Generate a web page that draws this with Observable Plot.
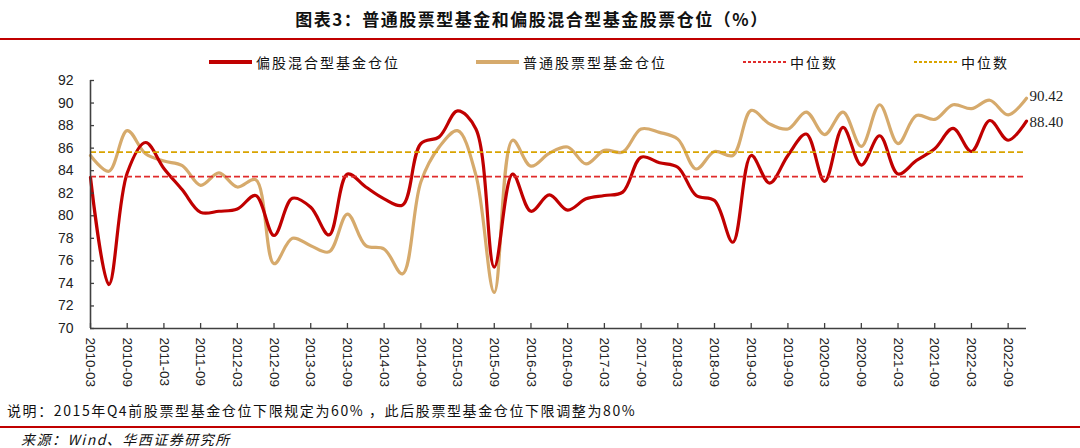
<!DOCTYPE html>
<html>
<head>
<meta charset="utf-8">
<script src="https://cdn.jsdelivr.net/npm/d3@7"></script>
<script src="https://cdn.jsdelivr.net/npm/@observablehq/plot@0.6"></script>
<style>
  html, body { margin: 0; padding: 0; background: #fff; }
  body { width: 1080px; height: 448px; overflow: hidden; position: relative; font-family: "Noto Sans CJK SC", sans-serif; color: #111; }
  #title { position: absolute; top: 7px; left: -8px; width: 1080px; text-align: center; font-size: 17px; font-weight: 700; letter-spacing: 1.5px; line-height: 24px; }
  .rule { position: absolute; left: 0; width: 1080px; background: #c00000; }
  .item { position: absolute; top: 52px; height: 20px; display: flex; align-items: center; font-size: 14px; letter-spacing: 2px; color: #111; white-space: nowrap; }
  .sw { width: 43px; margin-right: 4px; }
  #chart { position: absolute; left: 0; top: 70px; }
  #note { position: absolute; left: 7px; top: 400px; font-size: 14px; letter-spacing: 1.6px; line-height: 20px; color: #111; white-space: nowrap; }
  #source { position: absolute; left: 21px; top: 431px; font-size: 14px; letter-spacing: 1.5px; line-height: 16px; font-style: italic; color: #111; white-space: nowrap; }
</style>
</head>
<body>
<div id="title"></div>
<div class="rule" style="top:38px;height:2px;"></div>
<div id="legend"></div>
<div id="chart"></div>
<div id="note"></div>
<div class="rule" style="top:426px;height:1.5px;"></div>
<div id="source"></div>
<script>
// ---- data ----
const titleText = "图表3：普通股票型基金和偏股混合型基金股票仓位（%）";
const noteText = "说明：2015年Q4前股票型基金仓位下限规定为60% ，此后股票型基金仓位下限调整为80%";
const sourceText = "来源：Wind、华西证券研究所";
const seriesNames = ["偏股混合型基金仓位", "普通股票型基金仓位", "中位数", "中位数"];

const quarters = [
  "2010-03","2010-06","2010-09","2010-12","2011-03","2011-06","2011-09","2011-12",
  "2012-03","2012-06","2012-09","2012-12","2013-03","2013-06","2013-09","2013-12",
  "2014-03","2014-06","2014-09","2014-12","2015-03","2015-06","2015-09","2015-12",
  "2016-03","2016-06","2016-09","2016-12","2017-03","2017-06","2017-09","2017-12",
  "2018-03","2018-06","2018-09","2018-12","2019-03","2019-06","2019-09","2019-12",
  "2020-03","2020-06","2020-09","2020-12","2021-03","2021-06","2021-09","2021-12",
  "2022-03","2022-06","2022-09","2022-12"
];

const hybridFund = [
  83.4, 73.9, 83.8, 86.5, 84.2, 82.3, 80.3, 80.4,
  80.6, 81.8, 78.25, 81.55, 80.75, 78.3, 83.7, 82.55,
  81.5, 80.95, 86.4, 87.0, 89.3, 87.7, 75.45, 83.7,
  80.4, 81.85, 80.5, 81.5, 81.8, 82.1, 85.2, 84.7,
  84.3, 81.8, 81.35, 77.65, 85.35, 82.9, 85.35, 87.25,
  83.05, 87.85, 84.5, 87.1, 83.7, 84.9, 85.95, 87.75,
  85.7, 88.45, 86.7, 88.40
];

const stockFund = [
  85.35, 83.95, 87.55, 85.5, 84.85, 84.45, 82.7, 83.8,
  82.55, 83.2, 75.75, 78.0, 77.35, 76.8, 80.15, 77.35,
  77.05, 74.85, 83.0, 86.1, 87.55, 83.6, 73.2, 86.7,
  84.4, 85.55, 86.1, 84.6, 85.8, 85.65, 87.7, 87.4,
  86.8, 84.15, 85.7, 85.35, 89.35, 88.15, 87.7, 89.2,
  87.2, 89.2, 86.15, 89.85, 86.4, 88.9, 88.55, 89.85,
  89.5, 90.25, 88.95, 90.42
];

const hybridMedian = 83.47;
const stockMedian = 85.65;
const yTicks = [70, 72, 74, 76, 78, 80, 82, 84, 86, 88, 90, 92];

const colors = { hybrid: "#c00000", stock: "#d6aa6c", hybridMed: "#e02b2b", stockMed: "#d9a400", axis: "#404040" };

// ---- text ----
document.getElementById("title").textContent = titleText;
document.getElementById("note").textContent = noteText;
document.getElementById("source").textContent = sourceText;

// ---- legend ----
const legendItems = [
  { left: 209, label: seriesNames[0], css: `height:4px;background:${colors.hybrid};` },
  { left: 476, label: seriesNames[1], css: `height:4px;background:${colors.stock};` },
  { left: 743, label: seriesNames[2], css: `height:2.5px;background:repeating-linear-gradient(to right, ${colors.hybridMed} 0 3px, transparent 3px 5px);` },
  { left: 914, label: seriesNames[3], css: `height:2.5px;background:repeating-linear-gradient(to right, ${colors.stockMed} 0 3px, transparent 3px 5px);` }
];
const legend = document.getElementById("legend");
for (const it of legendItems) {
  const d = document.createElement("div");
  d.className = "item";
  d.style.left = it.left + "px";
  d.innerHTML = `<span class="sw" style="${it.css}"></span><span>${it.label}</span>`;
  legend.appendChild(d);
}

// ---- chart ----
const idx = quarters.map((q, i) => i);
const hybridRows = idx.map(i => ({ i, v: hybridFund[i] }));
const stockRows = idx.map(i => ({ i, v: stockFund[i] }));
const xTicks = idx.filter(i => i % 2 === 0);
const last = quarters.length - 1;

const chart = Plot.plot({
  width: 1080,
  height: 330,
  marginTop: 10,
  marginBottom: 72,
  marginLeft: 90,
  marginRight: 54,
  x: { domain: [0, last], label: null },
  y: { domain: [70, 92], label: null },
  style: { fontFamily: "'Liberation Sans', Arial, sans-serif", fontSize: "14px", color: "#222", background: "white" },
  marks: [
    Plot.line(stockRows, { x: "i", y: "v", stroke: colors.stock, strokeWidth: 3.2, curve: "catmull-rom" }),
    Plot.line(hybridRows, { x: "i", y: "v", stroke: colors.hybrid, strokeWidth: 3.2, curve: "catmull-rom" }),
    Plot.ruleY([hybridMedian], { stroke: colors.hybridMed, strokeWidth: 1.8, strokeDasharray: "6,3" }),
    Plot.ruleY([stockMedian], { stroke: colors.stockMed, strokeWidth: 1.8, strokeDasharray: "6,3" }),
    Plot.ruleY([70], { stroke: colors.axis, strokeWidth: 1.6 }),
    Plot.ruleX([0], { stroke: colors.axis, strokeWidth: 1.6 }),
    Plot.axisY({ ticks: yTicks, tickSize: 4, dx: 4, label: null, tickFormat: () => "", stroke: colors.axis, strokeWidth: 1.3 }),
    Plot.axisY({ ticks: yTicks, tickSize: 0, tickPadding: 17, label: null, tickFormat: d => String(d), fontSize: 14, fill: "#222" }),
    Plot.axisX({ ticks: xTicks, tickSize: 5, dy: -5, label: null, tickFormat: () => "", stroke: colors.axis, strokeWidth: 1.3 }),
    Plot.axisX({ ticks: xTicks, tickSize: 0, tickPadding: 9, tickRotate: 90, label: null, tickFormat: i => quarters[i], fontSize: 13.5, fill: "#222" }),
    Plot.text([{ i: last, v: stockFund[last] }], { x: "i", y: "v", text: d => d.v.toFixed(2), textAnchor: "start", dx: 3, dy: -2, fontFamily: "'Liberation Serif', serif", fontSize: 15, fill: "#222" }),
    Plot.text([{ i: last, v: hybridFund[last] }], { x: "i", y: "v", text: d => d.v.toFixed(2), textAnchor: "start", dx: 3, dy: 1, fontFamily: "'Liberation Serif', serif", fontSize: 15, fill: "#222" })
  ]
});
document.getElementById("chart").appendChild(chart);
</script>
</body>
</html>
